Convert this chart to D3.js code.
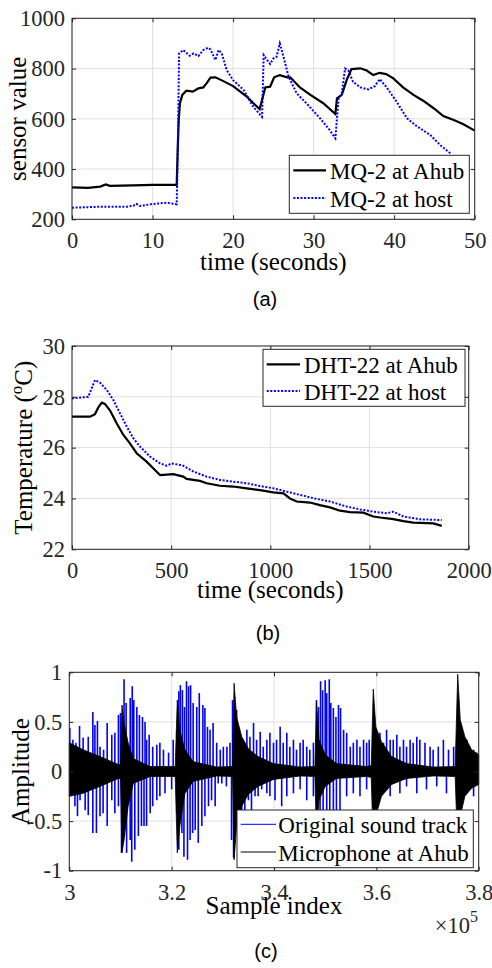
<!DOCTYPE html>
<html>
<head>
<meta charset="utf-8">
<script src="https://cdn.jsdelivr.net/npm/d3@7"></script>
<style>
  body { margin: 0; background: #fff; }
  svg { display: block; }
  svg text { font-family: "Liberation Serif", "Times New Roman", serif; }
  svg text.caption { font-family: "Liberation Sans", Arial, sans-serif; }
</style>
</head>
<body>
<script>
'use strict';

// ---- panel (a): MQ-2 gas sensor, [time s, sensor value]
const mqAhub = [
  [0, 327], [2, 325], [3.5, 330], [4.2, 339], [4.7, 333], [7.6, 335], [10, 337], [13, 337],
  [13.1, 449], [13.25, 595], [13.4, 662], [13.7, 695], [14.2, 712], [15, 708], [15.7, 721],
  [16.3, 725], [16.7, 741], [17.2, 764], [17.8, 765], [18.8, 750], [20, 730], [21.7, 688],
  [23.3, 638], [23.7, 688], [24, 725], [24.6, 728], [25.1, 765], [25.8, 774], [26.7, 765],
  [27.1, 765], [28.3, 725], [29.6, 695], [31.2, 662], [32.7, 619], [32.9, 681], [33.5, 695],
  [34.1, 754], [34.7, 798], [35.8, 801], [36.6, 792], [37.4, 774], [38.2, 783], [39, 778],
  [39.9, 761], [41.1, 725], [42.4, 695], [43.6, 672], [44.9, 642], [46.1, 611], [47.4, 595],
  [48.6, 578], [50, 553]
];
const mqHost = [
  [0, 246], [3.5, 250], [6.8, 250], [7.6, 254], [8, 261], [8.4, 253], [10, 261], [11.8, 266],
  [13, 260], [13.1, 410], [13.3, 860], [13.8, 874], [14.6, 851], [15.1, 860], [15.7, 850],
  [16.3, 874], [16.9, 883], [17.2, 876], [17.8, 834], [18.2, 874], [18.6, 860], [19.2, 794],
  [20, 754], [21.3, 715], [22.5, 648], [23.6, 608], [23.8, 854], [24.6, 818], [25, 840],
  [25.4, 847], [25.8, 900], [26.2, 854], [26.9, 767], [27.9, 701], [29.1, 662], [30.8, 602],
  [32, 555], [32.7, 522], [33.1, 681], [33.5, 701], [33.9, 800], [34.3, 793], [34.9, 747],
  [35.8, 725], [36.8, 717], [37.6, 730], [38.2, 758], [39, 728], [40.3, 668], [41.6, 602],
  [42.8, 571], [44.5, 535], [45.7, 496], [47, 462]
];
const mqXTicks = [0, 10, 20, 30, 40, 50];
const mqYTicks = [200, 400, 600, 800, 1000];
const mqLegend = ['MQ-2 at Ahub', 'MQ-2 at host'];

// ---- panel (b): DHT-22 temperature, [time s, deg C]
const dhtAhub = [
  [0, 27.22], [91, 27.22], [116, 27.32], [133, 27.59], [150, 27.77], [166, 27.72], [192, 27.46],
  [225, 26.96], [259, 26.5], [292, 26.17], [326, 25.78], [376, 25.45], [418, 25.12], [444, 24.92],
  [511, 24.96], [561, 24.86], [578, 24.77], [645, 24.69], [679, 24.6], [746, 24.5], [813, 24.47],
  [881, 24.4], [948, 24.33], [1015, 24.24], [1066, 24.2], [1099, 24.0], [1133, 23.88],
  [1200, 23.84], [1250, 23.74], [1301, 23.65], [1351, 23.52], [1402, 23.46], [1469, 23.44],
  [1519, 23.29], [1553, 23.25], [1620, 23.19], [1671, 23.11], [1721, 23.05], [1822, 23.02],
  [1864, 22.92]
];
const dhtHost = [
  [0, 27.94], [82, 28.0], [116, 28.66], [141, 28.56], [175, 28.27], [208, 27.88], [242, 27.35],
  [276, 26.83], [309, 26.37], [343, 26.04], [393, 25.65], [444, 25.38], [477, 25.29], [503, 25.38],
  [561, 25.29], [612, 25.06], [679, 24.86], [746, 24.73], [813, 24.66], [881, 24.6], [948, 24.49],
  [1015, 24.4], [1082, 24.27], [1150, 24.14], [1217, 24.01], [1301, 23.88], [1385, 23.68],
  [1452, 23.57], [1519, 23.48], [1587, 23.42], [1620, 23.48], [1671, 23.29], [1755, 23.18],
  [1864, 23.15]
];
const dhtXTicks = [0, 500, 1000, 1500, 2000];
const dhtYTicks = [22, 24, 26, 28, 30];
const dhtLegend = ['DHT-22 at Ahub', 'DHT-22 at host'];

// ---- panel (c): sound, sample index in units of 1e5
// original track: positive and negative peaks [index, amplitude]
const soundPos = [
  [3.001, .44], [3.007, .32], [3.013, .29], [3.020, .46], [3.027, .34], [3.037, .35], [3.046, .60],
  [3.050, .47], [3.055, .51], [3.060, .25], [3.067, .22], [3.074, .49], [3.083, .37], [3.089, .39],
  [3.096, .57], [3.100, .59], [3.107, .93], [3.111, .69], [3.119, .74], [3.123, .86], [3.126, .72],
  [3.132, .65], [3.137, .57], [3.143, .55], [3.148, .50], [3.151, .32], [3.156, .37], [3.163, .25],
  [3.171, .27], [3.177, .29], [3.184, .22], [3.194, .19], [3.203, .32], [3.210, .42], [3.214, .81],
  [3.217, .87], [3.221, .82], [3.225, .65], [3.229, .91], [3.233, .86], [3.237, .87], [3.242, .69],
  [3.249, .65], [3.254, .79], [3.261, .67], [3.265, .64], [3.270, .45], [3.275, .42], [3.281, .49],
  [3.288, .29], [3.295, .22], [3.301, .25], [3.308, .25], [3.314, .29], [3.319, .72], [3.327, .62],
  [3.334, .35], [3.340, .32], [3.347, .42], [3.353, .35], [3.360, .49], [3.366, .32], [3.373, .40],
  [3.379, .25], [3.386, .32], [3.392, .39], [3.399, .29], [3.405, .32], [3.412, .45], [3.418, .29],
  [3.425, .39], [3.431, .25], [3.438, .32], [3.444, .22], [3.451, .29], [3.457, .32], [3.464, .25],
  [3.470, .22], [3.477, .29], [3.483, .72], [3.487, .65], [3.491, .91], [3.495, .82], [3.500, .92],
  [3.503, .79], [3.508, .93], [3.511, .69], [3.516, .64], [3.521, .55], [3.526, .67], [3.530, .64],
  [3.536, .42], [3.542, .39], [3.549, .25], [3.555, .29], [3.562, .32], [3.568, .25], [3.575, .32],
  [3.581, .29], [3.586, .32], [3.601, .35], [3.607, .39], [3.614, .29], [3.620, .42], [3.627, .32],
  [3.633, .32], [3.640, .37], [3.646, .25], [3.653, .32], [3.659, .25], [3.666, .32], [3.672, .29],
  [3.679, .35], [3.685, .32], [3.695, .29], [3.705, .25], [3.711, .22], [3.721, .25], [3.731, .32],
  [3.741, .22], [3.751, .25], [3.770, .29], [3.777, .32], [3.783, .25], [3.790, .22], [3.796, .19]
];
const soundNeg = [
  [3.001, -.25], [3.007, -.18], [3.011, -.35], [3.016, -.45], [3.021, -.29], [3.031, -.39],
  [3.037, -.44], [3.046, -.62], [3.053, -.62], [3.060, -.45], [3.066, -.42], [3.074, -.55],
  [3.083, -.29], [3.089, -.42], [3.096, -.35], [3.102, -.82], [3.107, -.65], [3.112, -.82],
  [3.119, -.69], [3.122, -.91], [3.128, -.79], [3.135, -.65], [3.141, -.55], [3.146, -.55],
  [3.151, -.55], [3.158, -.42], [3.163, -.35], [3.171, -.29], [3.177, -.25], [3.187, -.22],
  [3.200, -.18], [3.210, -.42], [3.214, -.79], [3.220, -.62], [3.224, -.86], [3.231, -.89],
  [3.236, -.69], [3.241, -.62], [3.246, -.59], [3.252, -.72], [3.259, -.55], [3.265, -.45],
  [3.272, -.35], [3.278, -.29], [3.285, -.35], [3.291, -.12], [3.298, -.12], [3.307, -.15],
  [3.317, -.69], [3.321, -.87], [3.326, -.55], [3.330, -.42], [3.337, -.39], [3.343, -.42],
  [3.350, -.29], [3.356, -.42], [3.363, -.25], [3.369, -.25], [3.376, -.18], [3.386, -.22],
  [3.392, -.25], [3.402, -.29], [3.415, -.35], [3.425, -.25], [3.438, -.22], [3.451, -.18],
  [3.464, -.29], [3.477, -.25], [3.483, -.69], [3.490, -.75], [3.496, -.69], [3.503, -.75],
  [3.509, -.62], [3.516, -.55], [3.522, -.49], [3.529, -.42], [3.542, -.25], [3.555, -.22],
  [3.568, -.25], [3.581, -.18], [3.601, -.25], [3.614, -.18], [3.627, -.25], [3.646, -.22],
  [3.659, -.15], [3.679, -.22], [3.698, -.18], [3.718, -.15], [3.737, -.22], [3.777, -.18],
  [3.790, -.25]
];
// microphone: envelope [index, upper, lower]
const micEnvelope = [
  [3.000, .29, -.25], [3.027, .22, -.22], [3.060, .15, -.15], [3.096, .07, -.07], [3.100, .07, -.07],
  [3.103, .67, -.82], [3.107, .49, -.69], [3.115, .29, -.35], [3.125, .13, -.12], [3.158, .05, -.05],
  [3.207, .05, -.05], [3.211, .72, -.82], [3.216, .42, -.55], [3.226, .22, -.22], [3.242, .10, -.10],
  [3.288, .045, -.045], [3.319, .05, -.05], [3.322, .89, -.89], [3.327, .55, -.55], [3.337, .35, -.35],
  [3.350, .23, -.23], [3.369, .15, -.15], [3.399, .08, -.08], [3.451, .045, -.045], [3.480, .05, -.05],
  [3.483, .69, -.59], [3.488, .32, -.29], [3.500, .17, -.15], [3.522, .08, -.07], [3.581, .05, -.05],
  [3.590, .06, -.06], [3.594, .83, -.75], [3.599, .45, -.45], [3.610, .30, -.25], [3.630, .15, -.13],
  [3.659, .08, -.07], [3.711, .045, -.045], [3.754, .05, -.05], [3.759, .98, -.80], [3.764, .52, -.45],
  [3.773, .35, -.25], [3.786, .22, -.17], [3.800, .17, -.13]
];
const sndXTicks = [3, 3.2, 3.4, 3.6, 3.8];
const sndYTicks = [-1, -0.5, 0, 0.5, 1];
const sndLegend = ['Original sound track', 'Microphone at Ahub'];

const serif = '"Liberation Serif", "Times New Roman", serif';
const axisColor = '#262626';

const svg = d3.select('body')
  .append('svg')
  .attr('width', 492)
  .attr('height', 968);

function makePanel(p) {
  const x = d3.scaleLinear().domain(p.xDomain).range([p.left, p.right]);
  const y = d3.scaleLinear().domain(p.yDomain).range([p.bottom, p.top]);

  const grid = svg.append('g').attr('stroke', '#e0e0e0').attr('stroke-width', 1);
  grid.selectAll('line.gx')
    .data(p.xTicks)
    .enter()
    .append('line')
    .attr('x1', (d) => x(d)).attr('x2', (d) => x(d))
    .attr('y1', p.top).attr('y2', p.bottom);
  grid.selectAll('line.gy')
    .data(p.yTicks)
    .enter()
    .append('line')
    .attr('x1', p.left).attr('x2', p.right)
    .attr('y1', (d) => y(d)).attr('y2', (d) => y(d));

  const plot = svg.append('g');
  return { x, y, plot };
}

function styleAxis(g) {
  g.attr('color', axisColor)
    .attr('font-family', null)
    .attr('font-size', null);
  g.select('.domain').remove();
  g.selectAll('text')
    .style('font-family', serif)
    .style('font-size', '22.5px')
    .attr('fill', axisColor);
}

function drawFrame(p, s) {
  const fmt = p.format || ((d) => d);

  svg.append('g')
    .attr('transform', `translate(0, ${p.bottom})`)
    .call(d3.axisBottom(s.x).tickValues(p.xTicks).tickFormat(fmt)
      .tickSizeInner(-4).tickSizeOuter(0).tickPadding(13))
    .call(styleAxis);

  svg.append('g')
    .attr('transform', `translate(0, ${p.top})`)
    .call(d3.axisTop(s.x).tickValues(p.xTicks).tickFormat('')
      .tickSizeInner(-4).tickSizeOuter(0))
    .call(styleAxis);

  svg.append('g')
    .attr('transform', `translate(${p.left}, 0)`)
    .call(d3.axisLeft(s.y).tickValues(p.yTicks).tickFormat(p.yFormat || fmt)
      .tickSizeInner(-4).tickSizeOuter(0).tickPadding(7))
    .call(styleAxis);

  svg.append('g')
    .attr('transform', `translate(${p.right}, 0)`)
    .call(d3.axisRight(s.y).tickValues(p.yTicks).tickFormat('')
      .tickSizeInner(-4).tickSizeOuter(0))
    .call(styleAxis);

  svg.append('rect')
    .attr('x', p.left).attr('y', p.top)
    .attr('width', p.right - p.left).attr('height', p.bottom - p.top)
    .attr('fill', 'none')
    .attr('stroke', axisColor)
    .attr('stroke-width', 1);
}

function drawLegend(box, items) {
  const g = svg.append('g');
  g.append('rect')
    .attr('x', box.x).attr('y', box.y)
    .attr('width', box.w).attr('height', box.h)
    .attr('fill', '#fff')
    .attr('stroke', axisColor)
    .attr('stroke-width', 1);
  items.forEach((it, i) => {
    const ly = box.rows[i];
    g.append('line')
      .attr('x1', box.lineX[0]).attr('x2', box.lineX[1])
      .attr('y1', ly).attr('y2', ly)
      .attr('stroke', it.color)
      .attr('stroke-width', it.width)
      .attr('stroke-dasharray', it.dash || null);
    g.append('text')
      .attr('x', box.textX)
      .attr('y', ly + 8.5)
      .attr('font-size', 23)
      .attr('fill', '#000')
      .text(it.label);
  });
}

function axisTitles(t) {
  svg.append('text')
    .attr('x', t.xCenter).attr('y', t.xBase)
    .attr('text-anchor', 'middle')
    .attr('font-size', 25)
    .text(t.xLabel);
  const yl = svg.append('text')
    .attr('transform', `translate(${t.yBase}, ${t.yCenter}) rotate(-90)`)
    .attr('text-anchor', 'middle')
    .attr('font-size', 25);
  t.yParts.forEach((part) => {
    yl.append('tspan')
      .attr('dy', part.dy || 0)
      .attr('font-size', part.size || null)
      .text(part.text);
  });
  svg.append('text')
    .attr('class', 'caption')
    .attr('x', t.capX).attr('y', t.capY)
    .attr('text-anchor', 'middle')
    .attr('font-size', 20)
    .text(t.caption);
}

const dotted = '2,1.6';

// ---------- (a)
const pa = {
  left: 72, right: 474.7, top: 18.3, bottom: 219.3,
  xDomain: [0, 50], yDomain: [200, 1000], xTicks: mqXTicks, yTicks: mqYTicks
};
const sa = makePanel(pa);
const lineA = d3.line().x((d) => sa.x(d[0])).y((d) => sa.y(d[1]));
sa.plot.append('path').datum(mqAhub)
  .attr('d', lineA).attr('fill', 'none').attr('stroke', '#000').attr('stroke-width', 2.2);
sa.plot.append('path').datum(mqHost)
  .attr('d', lineA).attr('fill', 'none').attr('stroke', '#0000ff').attr('stroke-width', 2)
  .attr('stroke-dasharray', dotted);
drawFrame(pa, sa);
drawLegend({ x: 289.3, y: 155.3, w: 180, h: 58, rows: [170.3, 198], lineX: [293.3, 326], textX: 330 }, [
  { label: mqLegend[0], color: '#000', width: 2.2 },
  { label: mqLegend[1], color: '#0000ff', width: 2, dash: dotted }
]);
axisTitles({
  xLabel: 'time (seconds)', xCenter: 273.3, xBase: 270,
  yParts: [{ text: 'sensor value' }], yBase: 26, yCenter: 118.8,
  caption: '(a)', capX: 265, capY: 306
});

// ---------- (b)
const pb = {
  left: 72, right: 468.7, top: 346, bottom: 549.3,
  xDomain: [0, 2000], yDomain: [22, 30], xTicks: dhtXTicks, yTicks: dhtYTicks
};
const sb = makePanel(pb);
const lineB = d3.line().x((d) => sb.x(d[0])).y((d) => sb.y(d[1]));
sb.plot.append('path').datum(dhtAhub)
  .attr('d', lineB).attr('fill', 'none').attr('stroke', '#000').attr('stroke-width', 2.2);
sb.plot.append('path').datum(dhtHost)
  .attr('d', lineB).attr('fill', 'none').attr('stroke', '#0000ff').attr('stroke-width', 2)
  .attr('stroke-dasharray', dotted);
drawFrame(pb, sb);
drawLegend({ x: 263, y: 349.3, w: 202, h: 57, rows: [364.3, 391], lineX: [266.7, 300], textX: 304 }, [
  { label: dhtLegend[0], color: '#000', width: 2.2 },
  { label: dhtLegend[1], color: '#0000ff', width: 2, dash: dotted }
]);
axisTitles({
  xLabel: 'time (seconds)', xCenter: 270.3, xBase: 597.5,
  yParts: [{ text: 'Temperature (' }, { text: 'o', dy: -10, size: 17 }, { text: 'C)', dy: 10 }],
  yBase: 32, yCenter: 447.7,
  caption: '(b)', capX: 268, capY: 640
});

// ---------- (c)
const pc = {
  left: 69.3, right: 478.7, top: 672.3, bottom: 870.7,
  xDomain: [3, 3.8], yDomain: [-1, 1], xTicks: sndXTicks, yTicks: sndYTicks,
  format: (d) => String(d)
};
const sc = makePanel(pc);
sc.plot.selectAll('line.spike')
  .data(soundPos.concat(soundNeg))
  .enter()
  .append('line')
  .attr('x1', (d) => sc.x(d[0])).attr('x2', (d) => sc.x(d[0]))
  .attr('y1', sc.y(0)).attr('y2', (d) => sc.y(d[1]))
  .attr('stroke', '#0000ff')
  .attr('stroke-width', 1.6);
const micArea = d3.area()
  .x((d) => sc.x(d[0]))
  .y0((d) => sc.y(d[2]))
  .y1((d) => sc.y(d[1]));
sc.plot.append('path').datum(micEnvelope)
  .attr('d', micArea)
  .attr('fill', '#000')
  .attr('stroke', '#000')
  .attr('stroke-width', 0.8);
drawFrame(pc, sc);
drawLegend({ x: 237, y: 810, w: 236.3, h: 57.7, rows: [824.3, 852], lineX: [240.7, 276], textX: 278.3 }, [
  { label: sndLegend[0], color: '#0000ff', width: 1 },
  { label: sndLegend[1], color: '#000', width: 1 }
]);
axisTitles({
  xLabel: 'Sample index', xCenter: 274, xBase: 914,
  yParts: [{ text: 'Amplitude' }], yBase: 29, yCenter: 771.5,
  caption: '(c)', capX: 266, capY: 958
});
const expo = svg.append('text')
  .attr('x', 478).attr('y', 933)
  .attr('text-anchor', 'end')
  .attr('font-size', 22.5)
  .attr('fill', axisColor);
expo.append('tspan').text('\u00d710');
expo.append('tspan').attr('dy', -11).attr('font-size', 16).text('5');
</script>
</body>
</html>
